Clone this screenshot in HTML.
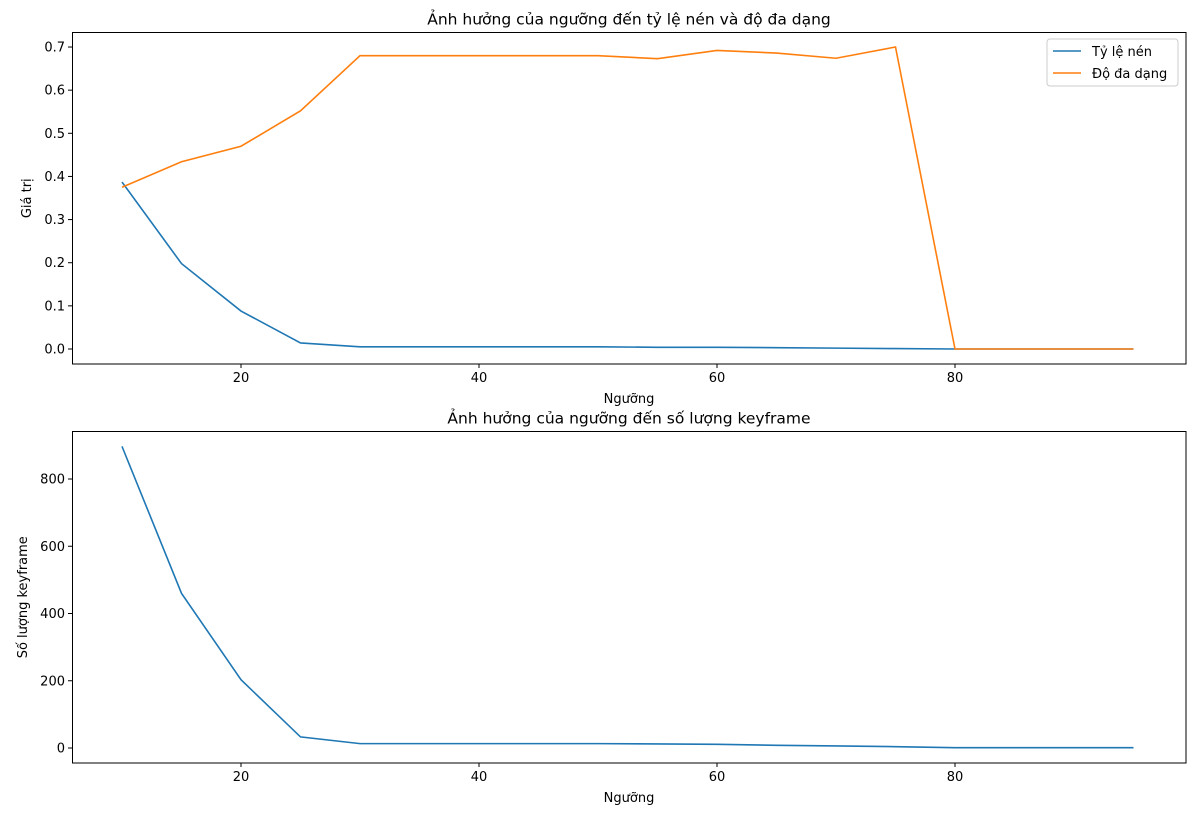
<!DOCTYPE html>
<html><head><meta charset="utf-8"><style>
body{margin:0;background:#fff;font-family:"Liberation Sans","DejaVu Sans",sans-serif}
svg text{font-family:"DejaVu Sans","Liberation Sans",sans-serif}
</style></head><body>
<svg id="c" width="1200" height="810"></svg>
<script>
const thresholds=[10,15,20,25,30,35,40,45,50,55,60,65,70,75,80,85,90,95];
const compression=[0.387,0.198,0.088,0.014,0.005,0.005,0.005,0.005,0.005,0.004,0.004,0.003,0.002,0.001,0,0,0,0];
const diversity=[0.375,0.434,0.470,0.552,0.680,0.680,0.680,0.680,0.680,0.673,0.692,0.686,0.674,0.700,0,0,0,0];
const keyframes=[897,460,203,33,13,13,13,13,13,12,11,8,6,4,1,1,1,1];
const xTicks=[20,40,60,80];
const yTicks1=[0,0.1,0.2,0.3,0.4,0.5,0.6,0.7];
const yTicks2=[0,200,400,600,800];
const NS="http://www.w3.org/2000/svg";
const svg=document.getElementById('c');
function el(t,a,txt){const e=document.createElementNS(NS,t);for(const k in a)e.setAttribute(k,a[k]);if(txt!==undefined)e.textContent=txt;svg.appendChild(e);return e;}
const xs=v=>122+(v-10)*11.9;
function panel(top,bot,yOf,yTicks,fmt,title,ylabel,series,pfx){
  let f=el('rect',{x:72.5,y:top,width:1113.5,height:bot-top,fill:'none',stroke:'#000','stroke-width':1});
  
  xTicks.forEach(v=>{const x=xs(v);
    let l=el('line',{x1:x,x2:x,y1:bot,y2:bot+4,stroke:'#000'});
    let t=el('text',{x:x,y:bot+18,'text-anchor':'middle','font-size':13},v);});
  yTicks.forEach(v=>{const y=yOf(v);
    let l=el('line',{x1:68,x2:72.5,y1:y,y2:y,stroke:'#000'});
    let t=el('text',{x:65,y:y+4.5,'text-anchor':'end','font-size':13},fmt(v));});
  let tt=el('text',{x:629,y:top-8,'text-anchor':'middle','font-size':15.5},title);
  let xl=el('text',{x:629,y:bot+39,'text-anchor':'middle','font-size':13},'Ngưỡng');
  const cy=(top+bot)/2;
  let yl=el('text',{x:0,y:0,'text-anchor':'middle','font-size':13,transform:`translate(${pfx==='top'?31:27},${cy}) rotate(-90)`},ylabel);
  series.forEach(s=>{const p=el('polyline',{points:thresholds.map((t,i)=>xs(t)+','+yOf(s.vals[i])).join(' '),fill:'none',stroke:s.color,'stroke-width':1.6});
    });
}
panel(32.5,364,v=>349-v*431.4,yTicks1,v=>v.toFixed(1),'Ảnh hưởng của ngưỡng đến tỷ lệ nén và độ đa dạng','Giá trị',
 [{vals:compression,color:'#1f77b4',name:'compression-line'},{vals:diversity,color:'#ff7f0e',name:'diversity-line'}],'top');
panel(431.5,763,v=>748-v*0.33625,yTicks2,v=>v,'Ảnh hưởng của ngưỡng đến số lượng keyframe','Số lượng keyframe',
 [{vals:keyframes,color:'#1f77b4',name:'keyframe-line'}],'bottom');
// legend
let lg=el('rect',{x:1047,y:39,width:131,height:47,rx:3,fill:'#fff',stroke:'#ccc'});
[['Tỷ lệ nén','#1f77b4',52],['Độ đa dạng','#ff7f0e',74]].forEach(([n,c,y])=>{
  let l=el('line',{x1:1053,x2:1081,y1:y-1,y2:y-1,stroke:c,'stroke-width':1.6});
  let t=el('text',{x:1092,y:y+4,'font-size':13},n);});
</script>
</body></html>
